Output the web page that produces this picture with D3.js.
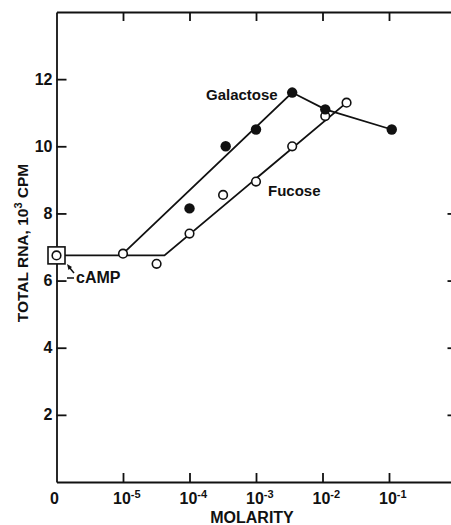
<!DOCTYPE html>
<html>
<head>
<meta charset="utf-8">
<script src="https://cdn.jsdelivr.net/npm/d3@7"></script>
<style>
  body { margin: 0; background: #fff; }
  svg text { font-family: "Liberation Sans", Arial, sans-serif; font-weight: bold; fill: #111; }
</style>
</head>
<body>
<div id="chart"></div>
<script>
const WIDTH = 451;
const HEIGHT = 525;

// Galactose (filled circles)
const galactoseMolarity = [1e-4, 3.5e-4, 1e-3, 3.5e-3, 1.1e-2, 1.1e-1];
const galactoseRna = [8.15, 10.0, 10.5, 11.6, 11.1, 10.5];
// Fucose (open circles)
const fucoseMolarity = [1e-5, 3.2e-5, 1e-4, 3.2e-4, 1e-3, 3.5e-3, 1.1e-2, 2.3e-2];
const fucoseRna = [6.8, 6.5, 7.4, 8.55, 8.95, 10.0, 10.9, 11.3];
// cAMP control (molarity 0)
const campRna = 6.75;

// drawn trend lines
const galactoseLineMolarity = [1e-5, 3.5e-3, 1.1e-2, 1.1e-1];
const galactoseLineRna = [6.8, 11.6, 11.1, 10.5];
const fucoseLineMolarity = [0, 4.2e-5, 2.3e-2];
const fucoseLineRna = [6.75, 6.75, 11.3];

const xTickExponents = [-5, -4, -3, -2, -1];
const yTicks = [2, 4, 6, 8, 10, 12];
const rightTicks = [2, 4, 6, 8];

const svg = d3.select('#chart').append('svg')
  .attr('width', WIDTH)
  .attr('height', HEIGHT);

const xScale = d3.scaleLog().domain([1e-6, 1]).range([56.5, 455.5]);
const yScale = d3.scaleLinear().domain([0, 14]).range([482, 12]);

// molarity 0 sits at the left axis
function xPos(m) {
  return m === 0 ? xScale(1e-6) : xScale(m);
}

const xTickValues = xTickExponents.map(e => Math.pow(10, e));

function styleAxis(g) {
  g.selectAll('path, line').attr('stroke', '#111').attr('stroke-width', 1.8);
}

// Frame with inward ticks
svg.append('g')
   .attr('transform', 'translate(0,' + yScale(0) + ')')
   .call(d3.axisBottom(xScale).tickValues(xTickValues).tickSize(-9).tickSizeOuter(0).tickFormat(''))
   .call(styleAxis);

svg.append('g')
   .attr('transform', 'translate(0,' + yScale(14) + ')')
   .call(d3.axisTop(xScale).tickValues(xTickValues).tickSize(-9).tickSizeOuter(0).tickFormat(''))
   .call(styleAxis);

svg.append('g')
   .attr('transform', 'translate(' + xScale(1e-6) + ',0)')
   .call(d3.axisLeft(yScale).tickValues(yTicks).tickSize(-10).tickSizeOuter(0).tickPadding(4))
   .call(styleAxis)
   .call(g => g.selectAll('text').style('font-size', '16px').attr('fill', '#111'));

svg.append('g')
   .attr('transform', 'translate(' + xScale(1) + ',0)')
   .call(d3.axisRight(yScale).tickValues(rightTicks).tickSize(-8).tickSizeOuter(0).tickFormat(''))
   .call(styleAxis);

// x tick labels: 0, 10^-5 ... 10^-1
svg.append('text')
   .attr('x', xPos(0) - 2)
   .attr('y', 504)
   .attr('text-anchor', 'middle')
   .style('font-size', '16px')
   .text('0');

const xLabels = svg.selectAll('.xlab')
  .data(xTickExponents)
  .enter()
  .append('text')
  .attr('class', 'xlab')
  .attr('x', d => xScale(Math.pow(10, d)) - 10)
  .attr('y', 504)
  .style('font-size', '16px');
xLabels.append('tspan').text('10');
xLabels.append('tspan')
  .attr('dy', -6)
  .style('font-size', '11px')
  .text(d => '-' + Math.abs(d));

svg.append('text')
   .attr('x', 252)
   .attr('y', 523)
   .attr('text-anchor', 'middle')
   .style('font-size', '16px')
   .text('MOLARITY');

// y axis title
const yTitle = svg.append('text')
  .attr('transform', 'translate(28,243) rotate(-90)')
  .attr('text-anchor', 'middle')
  .style('font-size', '15.5px');
yTitle.append('tspan').text('TOTAL RNA, 10');
yTitle.append('tspan').attr('dy', -6).style('font-size', '11px').text('3');
yTitle.append('tspan').attr('dy', 6).text(' CPM');

// trend lines
const line = d3.line().x(d => xPos(d[0])).y(d => yScale(d[1]));

svg.append('path')
   .datum(fucoseLineMolarity.map((m, i) => [m, fucoseLineRna[i]]))
   .attr('d', line)
   .attr('fill', 'none')
   .attr('stroke', '#111')
   .attr('stroke-width', 1.8);

svg.append('path')
   .datum(galactoseLineMolarity.map((m, i) => [m, galactoseLineRna[i]]))
   .attr('d', line)
   .attr('fill', 'none')
   .attr('stroke', '#111')
   .attr('stroke-width', 1.8);

// cAMP box
svg.append('rect')
   .attr('x', xPos(0) - 8.5)
   .attr('y', yScale(campRna) - 8.5)
   .attr('width', 17)
   .attr('height', 17)
   .attr('fill', '#fff')
   .attr('stroke', '#111')
   .attr('stroke-width', 1.6);

// points
svg.selectAll('.fuc')
   .data(fucoseMolarity.map((m, i) => [m, fucoseRna[i]]).concat([[0, campRna]]))
   .enter()
   .append('circle')
   .attr('cx', d => xPos(d[0]))
   .attr('cy', d => yScale(d[1]))
   .attr('r', 4.3)
   .attr('fill', '#fff')
   .attr('stroke', '#111')
   .attr('stroke-width', 1.6);

svg.selectAll('.gal')
   .data(galactoseMolarity.map((m, i) => [m, galactoseRna[i]]))
   .enter()
   .append('circle')
   .attr('cx', d => xPos(d[0]))
   .attr('cy', d => yScale(d[1]))
   .attr('r', 5.2)
   .attr('fill', '#111');

// annotations
svg.append('text')
   .attr('x', 206)
   .attr('y', 100)
   .style('font-size', '15px')
   .text('Galactose');

svg.append('text')
   .attr('x', 268)
   .attr('y', 196)
   .style('font-size', '15px')
   .text('Fucose');

svg.append('line')
   .attr('x1', 67).attr('y1', 278)
   .attr('x2', 74).attr('y2', 278)
   .attr('stroke', '#111').attr('stroke-width', 1.5);
svg.append('line')
   .attr('x1', 74).attr('y1', 273)
   .attr('x2', 69).attr('y2', 267)
   .attr('stroke', '#111').attr('stroke-width', 1.5);
svg.append('path')
   .attr('d', 'M67,264 L72,267 L68.5,270 Z')
   .attr('fill', '#111');

svg.append('text')
   .attr('x', 76)
   .attr('y', 283)
   .style('font-size', '16px')
   .text('cAMP');
</script>
</body>
</html>
